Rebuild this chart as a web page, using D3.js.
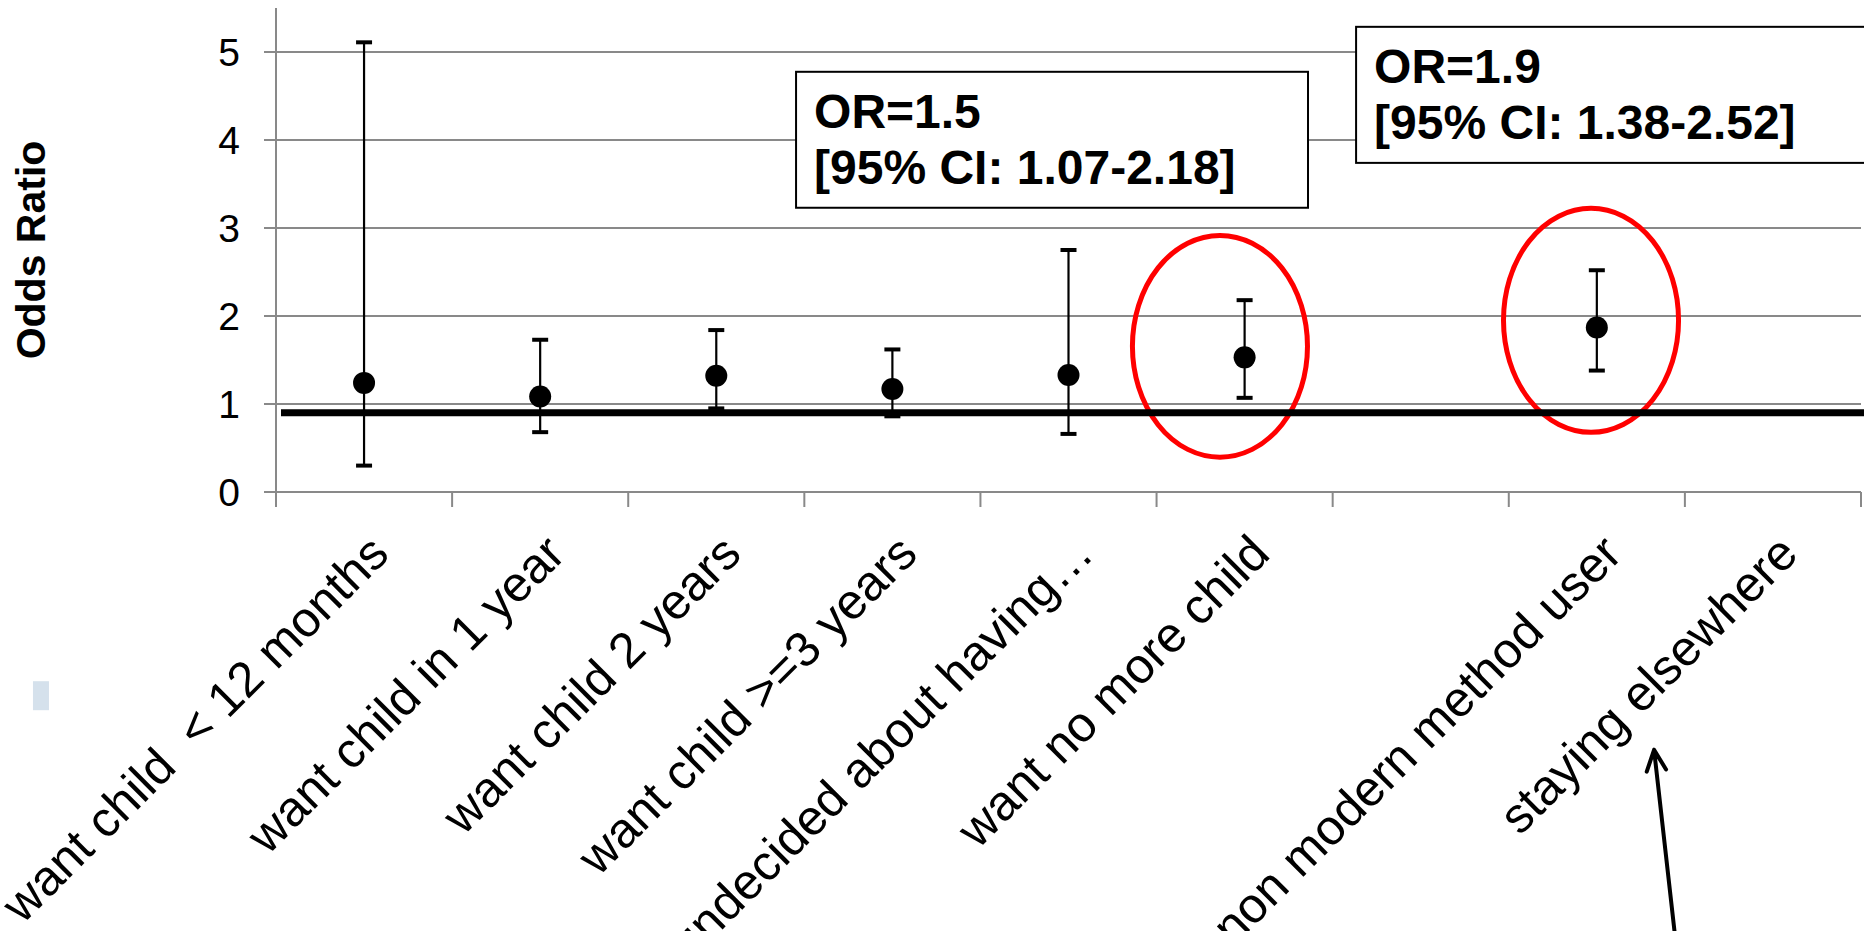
<!DOCTYPE html>
<html>
<head>
<meta charset="utf-8">
<script src="https://cdn.jsdelivr.net/npm/d3@7"></script>
<style>
  html, body { margin: 0; padding: 0; background: #fff; }
  svg { display: block; font-family: "Liberation Sans", Arial, sans-serif; }
</style>
</head>
<body>
<svg id="chart"></svg>
<script>
// Dades (llegides del gràfic)
var categories = ["want child  < 12 months", "want child in 1 year", "want child 2 years",
  "want child >=3 years", "undecided about having\u2026", "want no more child", "",
  "non modern method user", "staying elsewhere"];
var oddsRatio = [1.24, 1.085, 1.32, 1.17, 1.33, 1.53, null, 1.87, null];
var ciLower   = [0.30, 0.68, 0.95, 0.86, 0.66, 1.07, null, 1.38, null];
var ciUpper   = [5.11, 1.73, 1.84, 1.62, 2.75, 2.18, null, 2.52, null];
var yTicks = [0, 1, 2, 3, 4, 5];
var refValue = 0.9;
var boxTexts = [["OR=1.5", "[95% CI: 1.07-2.18]"], ["OR=1.9", "[95% CI: 1.38-2.52]"]];

// Dimensions
var width = 1864, height = 931;
var plotLeft = 276, plotRight = 1861, plotTop = 8, plotBottom = 492;

var svg = d3.select("#chart").attr("width", width).attr("height", height);

// Escales
var x = d3.scaleBand().domain(categories).range([plotLeft, plotRight]).padding(0);
var xi = d3.scaleLinear().domain([0, categories.length]).range([plotLeft, plotRight]); // posicions d'anotacions
var y = d3.scaleLinear().domain([0, 5.5]).range([plotBottom, plotTop]);

var grey = "#898989";

// Quadrícula
svg.append("g").selectAll("line").data(yTicks).enter().append("line")
  .attr("x1", plotLeft - 12).attr("x2", plotRight)
  .attr("y1", d => y(d)).attr("y2", d => y(d))
  .style("stroke", grey).style("stroke-width", 2);

// Eix Y
svg.append("line").attr("x1", plotLeft).attr("x2", plotLeft).attr("y1", y(5.5)).attr("y2", y(0))
  .style("stroke", grey).style("stroke-width", 2);
svg.append("g").selectAll("text").data(yTicks).enter().append("text")
  .attr("x", plotLeft - 36).attr("y", d => y(d)).attr("dy", "0.36em")
  .attr("text-anchor", "end").style("font-size", "39px").style("fill", "#000")
  .text(d => d);

// Marques de l'eix X
var bounds = d3.range(categories.length + 1);
svg.append("g").selectAll("line").data(bounds).enter().append("line")
  .attr("x1", d => xi(d)).attr("x2", d => xi(d))
  .attr("y1", y(0)).attr("y2", y(0) + 15)
  .style("stroke", grey).style("stroke-width", 2);

// Etiquetes X
svg.append("g").selectAll("text").data(categories).enter().append("text")
  .attr("transform", d => "translate(" + (x(d) + x.bandwidth() / 2 + 15) + "," + (y(0) + 52) + ") rotate(-45)")
  .attr("text-anchor", "end").attr("dy", "0.35em")
  .style("font-size", "49.5px").style("white-space", "pre")
  .text(d => d);

// Títol eix Y
svg.append("text")
  .attr("transform", "translate(45," + y(2.75) + ") rotate(-90)")
  .attr("text-anchor", "middle")
  .style("font-size", "41px").style("font-weight", "bold")
  .text("Odds Ratio");

// El·lipses vermelles
var rings = [{c: 5.36, v: 1.656, rx: 0.497, ry: 1.26}, {c: 7.467, v: 1.951, rx: 0.497, ry: 1.273}];
svg.append("g").selectAll("ellipse").data(rings).enter().append("ellipse")
  .attr("cx", d => xi(d.c)).attr("cy", d => y(d.v))
  .attr("rx", d => xi(d.rx) - xi(0)).attr("ry", d => y(0) - y(d.ry))
  .style("fill", "none").style("stroke", "#ff0000").style("stroke-width", 5);

// Línia de referència
svg.append("line")
  .attr("x1", plotLeft + 5).attr("x2", width)
  .attr("y1", y(refValue)).attr("y2", y(refValue))
  .style("stroke", "#000").style("stroke-width", 7);

// Barres d'error i punts
var idx = d3.range(categories.length).filter(i => oddsRatio[i] != null);
var cx = i => x(categories[i]) + x.bandwidth() / 2;
var g = svg.append("g");
g.selectAll(".err").data(idx).enter().append("line")
  .attr("x1", cx).attr("x2", cx)
  .attr("y1", i => y(ciLower[i])).attr("y2", i => y(ciUpper[i]))
  .style("stroke", "#000").style("stroke-width", 2.2);
[ciLower, ciUpper].forEach(function(arr) {
  g.selectAll(null).data(idx).enter().append("line")
    .attr("x1", i => cx(i) - 8).attr("x2", i => cx(i) + 8)
    .attr("y1", i => y(arr[i])).attr("y2", i => y(arr[i]))
    .style("stroke", "#000").style("stroke-width", 4);
});
g.selectAll("circle").data(idx).enter().append("circle")
  .attr("cx", cx).attr("cy", i => y(oddsRatio[i])).attr("r", 11)
  .style("fill", "#000");

// Quadres de text
var boxes = [{x0: 2.953, x1: 5.86, top: 4.775, bot: 3.23}, {x0: 6.133, x1: 9.2, top: 5.286, bot: 3.74}];
boxes.forEach(function(b, k) {
  var bx = xi(b.x0), by = y(b.top);
  svg.append("rect")
    .attr("x", bx).attr("y", by)
    .attr("width", xi(b.x1) - bx).attr("height", y(b.bot) - by)
    .style("fill", "#fff").style("stroke", "#000").style("stroke-width", 2);
  var t = svg.append("text").style("font-size", "48px").style("font-weight", "bold");
  boxTexts[k].forEach(function(line, j) {
    t.append("tspan").attr("x", bx + 18).attr("y", by + 56 + j * 56).text(line);
  });
});

// Fletxa
var tail = [xi(7.95), y(-5.15)], tip = [xi(7.825), y(-2.93)];
var dx = tail[0] - tip[0], dy = tail[1] - tip[1], len = Math.hypot(dx, dy);
var ux = dx / len, uy = dy / len, a = 25 * Math.PI / 180, hl = 23;
function rot(s) { return [tip[0] + hl * (ux * Math.cos(s * a) - uy * Math.sin(s * a)),
                          tip[1] + hl * (ux * Math.sin(s * a) + uy * Math.cos(s * a))]; }
var h1 = rot(1), h2 = rot(-1);
svg.append("path")
  .attr("d", "M" + tail + "L" + tip + "M" + h1 + "L" + tip + "L" + h2)
  .style("fill", "none").style("stroke", "#000").style("stroke-width", 4)
  .style("stroke-linecap", "round").style("stroke-linejoin", "round");

// Petit rectangle blau
svg.append("rect")
  .attr("x", xi(-1.38)).attr("y", y(-2.15))
  .attr("width", 16).attr("height", 29)
  .style("fill", "#d5e1ec");
</script>
</body>
</html>
